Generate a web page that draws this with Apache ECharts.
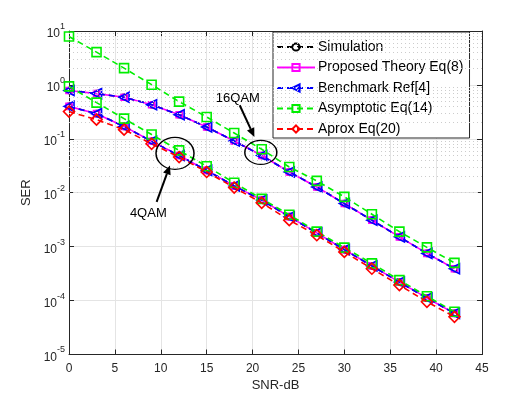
<!DOCTYPE html>
<html>
<head>
<meta charset="utf-8">
<script src="https://cdn.jsdelivr.net/npm/echarts@6/dist/echarts.min.js"></script>
<style>
  html, body { margin: 0; padding: 0; background: #fff; }
  #main { width: 532px; height: 399px; }
</style>
</head>
<body>
<div id="main"></div>
<script>
// SNR points (dB)
var snr = [0, 3, 6, 9, 12, 15, 18, 21, 24, 27, 30, 33, 36, 39, 42];

// 16QAM curves
var sim16 = [0.79, 0.69, 0.59, 0.43, 0.28, 0.166, 0.091, 0.049, 0.0243, 0.0128, 0.0063, 0.0031, 0.00152, 0.00075, 0.00039];
var theory16 = [0.79, 0.69, 0.59, 0.43, 0.28, 0.166, 0.091, 0.049, 0.0243, 0.0128, 0.0063, 0.0031, 0.00152, 0.00075, 0.00039];
var bench16 = [0.79, 0.69, 0.59, 0.43, 0.28, 0.166, 0.091, 0.049, 0.0243, 0.0128, 0.0063, 0.0031, 0.00152, 0.00075, 0.00039];
var asym16 = [7.9, 4.05, 2.05, 1.01, 0.49, 0.254, 0.128, 0.064, 0.030, 0.0166, 0.0084, 0.0040, 0.0019, 0.00097, 0.0005];

// 4QAM curves
var sim4 = [0.40, 0.293, 0.17, 0.09, 0.049, 0.026, 0.0134, 0.0073, 0.0036, 0.0018, 0.00088, 0.00044, 0.00022, 0.000112, 0.000058];
var theory4 = [0.40, 0.293, 0.17, 0.09, 0.049, 0.026, 0.0134, 0.0073, 0.0036, 0.0018, 0.00088, 0.00044, 0.00022, 0.000112, 0.000058];
var bench4 = [0.40, 0.293, 0.17, 0.09, 0.049, 0.026, 0.0134, 0.0073, 0.0036, 0.0018, 0.00088, 0.00044, 0.00022, 0.000112, 0.000058];
var asym4 = [0.94, 0.47, 0.237, 0.12, 0.061, 0.031, 0.0153, 0.0077, 0.0039, 0.0019, 0.00096, 0.00049, 0.00024, 0.00012, 0.000062];
var aprox4 = [0.32, 0.227, 0.148, 0.081, 0.046, 0.0243, 0.0125, 0.0065, 0.0031, 0.00163, 0.0008, 0.00039, 0.000194, 0.000095, 0.00005];

var names = ['Simulation', 'Proposed Theory Eq(8)', 'Benchmark Ref[4]', 'Asymptotic Eq(14)', 'Aprox Eq(20)'];

function pairs(ys) {
  return snr.map(function (x, i) { return [x, ys[i]]; });
}

// dotted minor grid at 2..9 x 10^k
var minorLines = [];
for (var k = -5; k < 1; k++) {
  for (var m = 2; m <= 9; m++) {
    minorLines.push({ yAxis: m * Math.pow(10, k) });
  }
}

var txt = '#262626';
var axisCol = '#262626';

function mkSeries(name, data, color, symbol, size, dashed, rotate, z) {
  return {
    name: name,
    type: 'line',
    data: pairs(data),
    symbol: symbol,
    symbolSize: size,
    symbolRotate: rotate || 0,
    z: z,
    lineStyle: { color: color, width: 1.6, type: dashed ? [6, 4] : 'solid' },
    itemStyle: { color: 'rgba(255,255,255,0)', borderColor: color, borderWidth: 1.6 },
    emphasis: { disabled: true },
    animation: false
  };
}

var chart = echarts.init(document.getElementById('main'));

var series = [
  mkSeries(names[0], sim16, '#000000', 'circle', 6, true, 0, 2),
  mkSeries(names[0], sim4, '#000000', 'circle', 6, true, 0, 2),
  mkSeries(names[1], theory16, '#ff00ff', 'rect', 6, false, 0, 3),
  mkSeries(names[1], theory4, '#ff00ff', 'rect', 6, false, 0, 3),
  mkSeries(names[2], bench16, '#0000ff', 'triangle', 10, true, 90, 4),
  mkSeries(names[2], bench4, '#0000ff', 'triangle', 10, true, 90, 4),
  mkSeries(names[3], asym16, '#00ee00', 'rect', 9, true, 0, 5),
  mkSeries(names[3], asym4, '#00ee00', 'rect', 9, true, 0, 5),
  mkSeries(names[4], aprox4, '#ff0000', 'diamond', 11, true, 0, 6)
];

// gridline holder for minor log grid
series.push({
  name: 'minor',
  type: 'line',
  data: [],
  z: 1,
  markLine: {
    silent: true,
    symbol: 'none',
    label: { show: false },
    lineStyle: { color: '#cccccc', type: [1, 3], width: 1 },
    data: minorLines,
    animation: false
  }
});

var option = {
  animation: false,
  backgroundColor: '#fff',
  textStyle: { fontFamily: 'Liberation Sans, Arial, sans-serif' },
  grid: { left: 69, right: 50, top: 31, bottom: 44.5, containLabel: false },
  legend: {
    data: names,
    orient: 'vertical',
    left: 273,
    top: 32,
    width: 208,
    padding: [8, 6, 2, 3],
    itemGap: 6.5,
    itemWidth: 38,
    itemHeight: 9,
    backgroundColor: '#fff',
    borderColor: '#262626',
    borderWidth: 1,
    borderRadius: 0,
    textStyle: { fontSize: 14, color: '#000', padding: [0, 0, 0, -2], lineHeight: 14 },
    selectedMode: false
  },
  xAxis: [{
    type: 'value',
    min: 0,
    max: 45,
    interval: 5,
    name: 'SNR-dB',
    nameLocation: 'middle',
    nameGap: 19,
    nameTextStyle: { fontSize: 13, color: txt },
    axisLine: { show: true, lineStyle: { color: axisCol } },
    axisTick: { inside: true, length: 5, lineStyle: { color: axisCol } },
    axisLabel: { fontSize: 12, color: txt, margin: 8 },
    splitLine: { show: true, lineStyle: { color: '#e4e4e4', width: 1 } }
  }, {
    type: 'value',
    position: 'top',
    min: 0,
    max: 45,
    interval: 5,
    axisLine: { show: true, onZero: false, lineStyle: { color: axisCol } },
    axisTick: { inside: true, length: 5, lineStyle: { color: axisCol } },
    axisLabel: { show: false },
    splitLine: { show: false }
  }],
  yAxis: [{
    type: 'log',
    logBase: 10,
    min: 1e-5,
    max: 10,
    name: 'SER',
    nameLocation: 'middle',
    nameGap: 35,
    nameRotate: 90,
    nameTextStyle: { fontSize: 13, color: txt },
    axisLine: { show: true, lineStyle: { color: axisCol } },
    axisTick: { inside: true, length: 5, lineStyle: { color: axisCol } },
    axisLabel: {
      margin: 4,
      formatter: function (v) {
        var e = Math.round(Math.log10(v));
        return '{b|10}{s|' + e + '}';
      },
      rich: {
        b: { fontSize: 12, color: txt, lineHeight: 18, verticalAlign: 'bottom' },
        s: { fontSize: 9, color: txt, lineHeight: 10, verticalAlign: 'top' }
      }
    },
    splitLine: { show: true, lineStyle: { color: '#e4e4e4', width: 1 } }
  }, {
    type: 'log',
    logBase: 10,
    min: 1e-5,
    max: 10,
    position: 'right',
    axisLine: { show: true, onZero: false, lineStyle: { color: axisCol } },
    axisTick: { inside: true, length: 5, lineStyle: { color: axisCol } },
    axisLabel: { show: false },
    splitLine: { show: false }
  }],
  series: series
};

chart.setOption(option);

// annotations: ellipses, arrows and labels placed in data coordinates
function px(x, y) {
  return chart.convertToPixel({ xAxisIndex: 0, yAxisIndex: 0 }, [x, y]);
}

function ellipse(c, rx, ry) {
  return {
    type: 'circle',
    x: c[0], y: c[1],
    scaleY: ry / rx,
    shape: { cx: 0, cy: 0, r: rx },
    style: { fill: 'none', stroke: '#000', lineWidth: 1.5, strokeNoScale: true },
    z: 100
  };
}

function arrow(a, b) {
  var dx = b[0] - a[0], dy = b[1] - a[1];
  var len = Math.sqrt(dx * dx + dy * dy);
  var ux = dx / len, uy = dy / len;
  var hl = 9, hw = 4;
  var base = [b[0] - ux * hl, b[1] - uy * hl];
  return [{
    type: 'line',
    shape: { x1: a[0], y1: a[1], x2: base[0], y2: base[1] },
    style: { stroke: '#000', lineWidth: 2 },
    z: 100
  }, {
    type: 'polygon',
    shape: { points: [b, [base[0] - uy * hw, base[1] + ux * hw], [base[0] + uy * hw, base[1] - ux * hw]] },
    style: { fill: '#000' },
    z: 100
  }];
}

function label(p, s) {
  return {
    type: 'text',
    x: p[0], y: p[1],
    style: { text: s, fontSize: 13, fill: '#000', align: 'center', verticalAlign: 'middle', fontFamily: 'Liberation Sans, Arial, sans-serif' },
    z: 100
  };
}

var g = [];
g.push(ellipse(px(11.55, 0.054), 19, 16));
g.push(ellipse(px(20.9, 0.056), 16, 12));
g = g.concat(arrow(px(9.55, 0.0068), px(11.0, 0.032)));
g = g.concat(arrow(px(18.6, 0.42), px(20.2, 0.108)));
g.push(label(px(8.64, 0.0042), '4QAM'));
g.push(label(px(18.4, 0.56), '16QAM'));

chart.setOption({ graphic: g });
</script>
</body>
</html>
